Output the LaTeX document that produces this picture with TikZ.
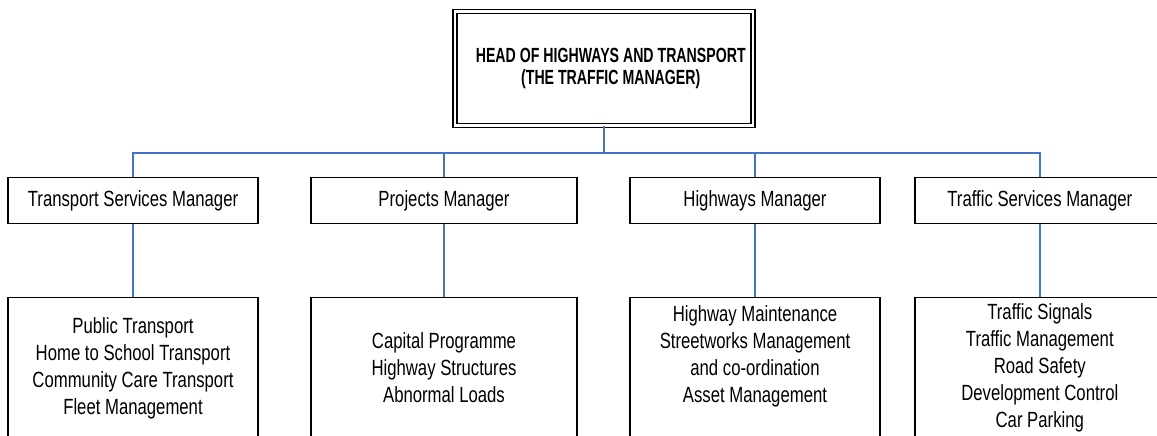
\documentclass[tikz,border=0pt]{standalone}
\usepackage{fontspec}
\setmainfont[FakeStretch=0.76]{Liberation Sans}
\newfontfamily\headfont[FakeStretch=0.69]{Liberation Sans}
\usetikzlibrary{positioning}

\definecolor{linkblue}{RGB}{68,114,196}
\tikzstyle{link} = [draw=linkblue, line width=1.5pt]
\tikzstyle{head} = [draw, double, line width=1.5pt, double distance=2.5pt, minimum width=298pt, minimum height=113.5pt, align=center, font=\headfont\bfseries\fontsize{20.5}{22}\selectfont]
\tikzstyle{post} = [draw, line width=1.4pt, minimum height=45.5pt, inner sep=0pt, font=\fontsize{22}{27}\selectfont]
\tikzstyle{duties} = [draw, line width=1.4pt, minimum height=141pt, inner sep=0pt, align=center, font=\fontsize{22}{27}\selectfont]

\begin{document}
\begin{tikzpicture}[x=1pt,y=-1pt]
    \useasboundingbox (0,0) rectangle (1157,436);
    \clip (0,0) rectangle (1157,436);

    \node[head] (top) at (603.75,68.5) {\hspace*{14pt}HEAD OF HIGHWAYS AND TRANSPORT\\\hspace*{14pt}(THE TRAFFIC MANAGER)};

    % managers
    \node[post, minimum width=250pt] (tsm) at (133,200.5) {Transport Services Manager};
    \node[post, minimum width=266pt] (pm) at (444,200.5) {Projects Manager};
    \node[post, minimum width=250pt] (hm) at (755,200.5) {Highways Manager};
    \node[post, minimum width=250pt] (tfm) at (1039.8,200.5) {Traffic Services Manager};

    % duties
    \node[duties, minimum width=250pt] (tsmduty) at (133,368) {Public Transport\\Home to School Transport\\Community Care Transport\\Fleet Management};
    \node[duties, minimum width=266pt] (pmduty) at (444,368) {Capital Programme\\Highway Structures\\Abnormal Loads};
    \node[duties, minimum width=250pt] (hmduty) at (755,368) {Highway Maintenance\\Streetworks Management\\and co-ordination\\Asset Management\\\mbox{}};
    \node[duties, minimum width=250pt] (tfmduty) at (1039.8,368) {Traffic Signals\\Traffic Management\\Road Safety\\Development Control\\Car Parking};

    \coordinate (bus) at (603.75,153);
    \draw[link] (top.south) -- (top.south |- bus);
    \draw[link] (tsm.north) |- (tfm.north |- bus) -- (tfm.north);
    \foreach \m in {pm,hm}
        \draw[link] (\m.north) -- (\m.north |- bus);
    \foreach \m/\d in {tsm/tsmduty,pm/pmduty,hm/hmduty,tfm/tfmduty}
        \draw[link] (\m) -- (\d);
\end{tikzpicture}
\end{document}
